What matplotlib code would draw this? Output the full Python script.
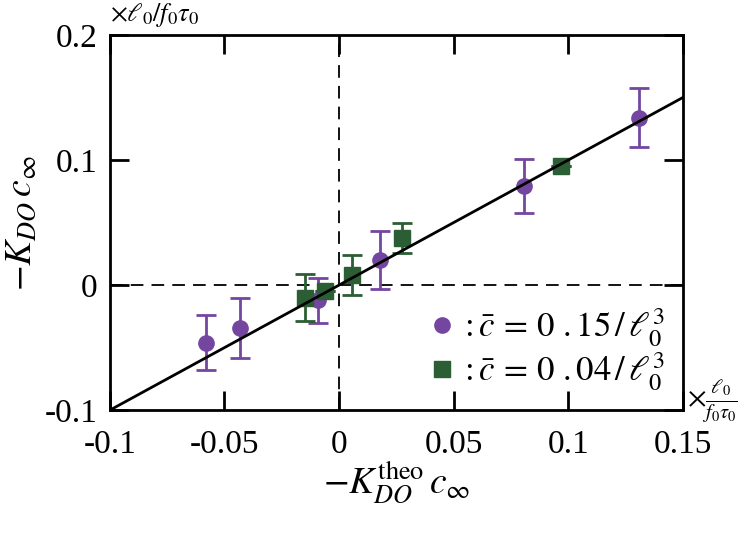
import matplotlib.pyplot as plt
from matplotlib.lines import Line2D

plt.rcParams['font.family'] = 'Liberation Serif'
plt.rcParams['mathtext.fontset'] = 'stix'

# c = 0.15 (circles)
x_c = [-0.058, -0.0433, -0.0093, 0.0178, 0.0806, 0.131]
y_c = [-0.046, -0.034, -0.012, 0.020, 0.079, 0.134]
e_c = [0.022, 0.024, 0.018, 0.023, 0.0216, 0.0236]

# c = 0.04 (squares)
x_s = [-0.0149, -0.006, 0.0056, 0.0274, 0.097]
y_s = [-0.010, -0.005, 0.008, 0.0376, 0.0955]
e_s = [0.019, 0.0, 0.016, 0.012, 0.0]

purple = '#7446a0'
green = '#2b5e34'

fig = plt.figure(figsize=(7.47, 5.39), dpi=100)
ax = fig.add_axes([0.147, 0.239, 0.767, 0.696])

ax.axhline(0, color='k', ls=(0, (7, 4.5)), lw=1.3, zorder=1)
ax.axvline(0, color='k', ls=(0, (7, 4.5)), lw=1.3, zorder=1)

ax.errorbar(x_c, y_c, yerr=e_c, fmt='o', color=purple, ms=11, capsize=7,
            elinewidth=2, capthick=2, zorder=3)
ax.errorbar(x_s, y_s, yerr=e_s, fmt='s', color=green, ms=11, capsize=7,
            elinewidth=2, capthick=2, zorder=3)

ax.plot([-0.1, 0.15], [-0.1, 0.15], color='k', lw=2, zorder=4)

ax.set_xlim(-0.1, 0.15)
ax.set_ylim(-0.1, 0.2)
ax.set_xticks([-0.1, -0.05, 0, 0.05, 0.1, 0.15])
ax.set_xticklabels(['-0.1', '-0.05', '0', '0.05', '0.1', '0.15'])
ax.set_yticks([-0.1, 0, 0.1, 0.2])
ax.set_yticklabels(['-0.1', '0', '0.1', '0.2'])
ax.tick_params(direction='in', length=14, width=2, labelsize=24,
               top=True, right=True, pad=9)
ax.tick_params(axis='x', pad=14)
for s in ax.spines.values():
    s.set_linewidth(2)

ax.set_xlabel(r'$-K_{DO}^{\mathrm{theo}}\,c_\infty$', fontsize=27, labelpad=0)
ax.set_ylabel(r'$-K_{DO}\,c_\infty$', fontsize=27, labelpad=4)

ax.text(0.0, 1.015, r'$\times\ell_0/f_0\tau_0$', transform=ax.transAxes,
        fontsize=19, ha='left', va='bottom')
ax.text(1.008, 0.025, r'$\times\frac{\ell_0}{f_0\tau_0}$', transform=ax.transAxes,
        fontsize=21, ha='left', va='center')

handles = [
    Line2D([], [], marker='o', ls='none', color=purple, ms=11),
    Line2D([], [], marker='s', ls='none', color=green, ms=11),
]
labels = [r'$:\bar{c}\,=\,0\ .15\,/\,\ell_0^3$', r'$:\bar{c}\,=\,0\ .04\,/\,\ell_0^3$']
ax.legend(handles, labels, loc='lower right', frameon=False, fontsize=25,
          handletextpad=0.0, handlelength=1.0, borderaxespad=0.2,
          labelspacing=0.05, borderpad=0.3)

fig.savefig('out.png', dpi=100)
